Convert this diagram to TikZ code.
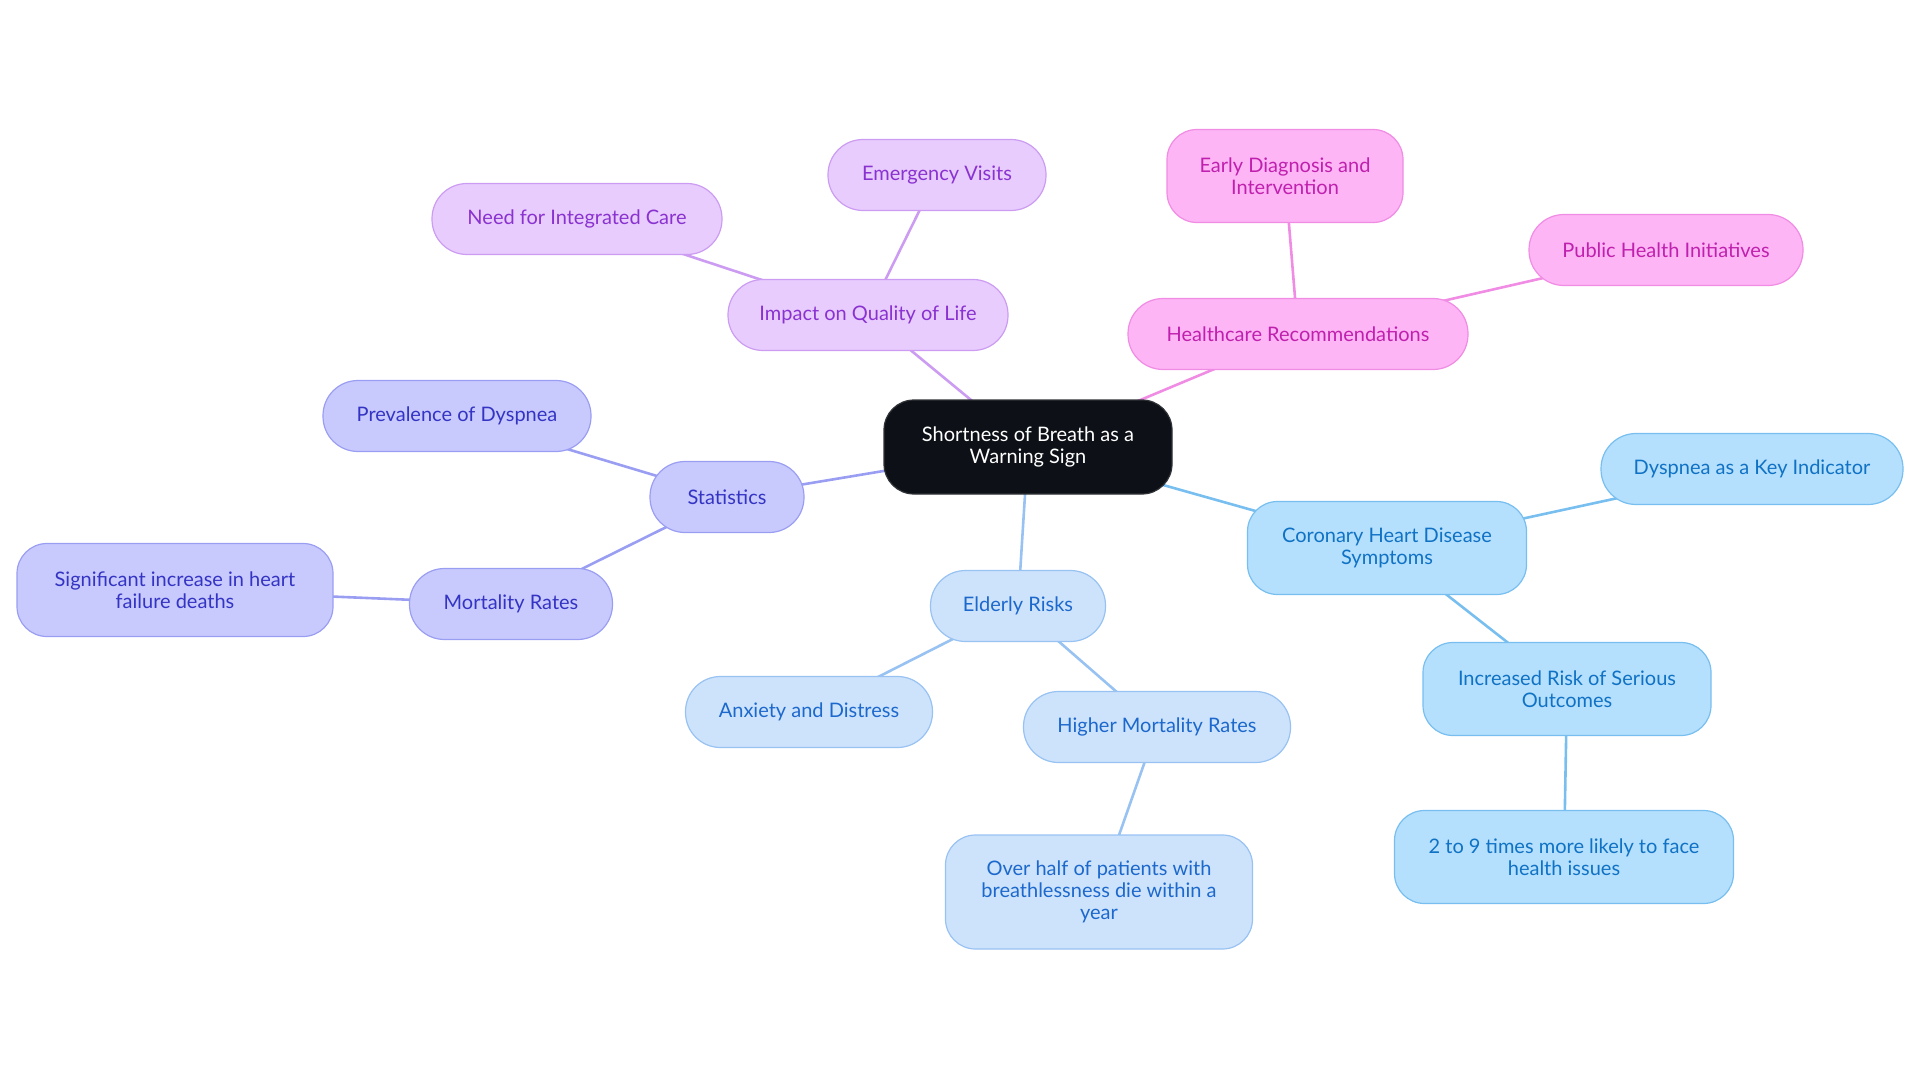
\documentclass[tikz,border=0pt]{standalone}
\usepackage{fontspec}
\setmainfont{Lato}
\usetikzlibrary{backgrounds}
\definecolor{rootfill}{HTML}{0D1117}
\definecolor{stfill}{HTML}{C8CAFD}\definecolor{stdraw}{HTML}{9A9EF2}\definecolor{sttext}{HTML}{3434C4}
\definecolor{imfill}{HTML}{E8CCFD}\definecolor{imdraw}{HTML}{CC9CF2}\definecolor{imtext}{HTML}{8A32D0}
\definecolor{hcfill}{HTML}{FDB5F5}\definecolor{hcdraw}{HTML}{F08CE4}\definecolor{hctext}{HTML}{C020AE}
\definecolor{elfill}{HTML}{CDE3FC}\definecolor{eldraw}{HTML}{98C2F2}\definecolor{eltext}{HTML}{1C68CC}
\definecolor{chfill}{HTML}{B4DFFD}\definecolor{chdraw}{HTML}{78BFF0}\definecolor{chtext}{HTML}{1072C4}
\tikzset{
  box/.style={draw, line width=1.2pt, align=center, inner sep=0pt,
     font=\fontsize{20}{22}\selectfont, minimum height=71pt},
  pill/.style={box, rounded corners=35pt},
  tall/.style={box, rounded corners=30pt, minimum height=93pt},
  root/.style={box, fill=rootfill, draw=rootfill!70!gray, text=white, rounded corners=30pt, minimum height=94pt},
  st/.style={fill=stfill, draw=stdraw, text=sttext},
  im/.style={fill=imfill, draw=imdraw, text=imtext},
  hc/.style={fill=hcfill, draw=hcdraw, text=hctext},
  el/.style={fill=elfill, draw=eldraw, text=eltext},
  ch/.style={fill=chfill, draw=chdraw, text=chtext},
  link/.style={line width=2.6pt},
}
\begin{document}
\begin{tikzpicture}[x=1pt,y=-1pt]
\useasboundingbox (0,0) rectangle (1920,1083);
\node[root, minimum width=288pt] (root) at (1028,447) {Shortness of Breath as a\\Warning Sign};
% statistics
\node[pill, st, minimum width=154pt] (stat) at (727,497) {Statistics};
\node[pill, st, minimum width=268pt] (prev) at (457,416) {Prevalence of Dyspnea};
\node[pill, st, minimum width=203pt] (mort) at (511,604) {Mortality Rates};
\node[tall, st, minimum width=316pt] (sig) at (175,590) {Significant increase in heart\\failure deaths};
% impact
\node[pill, im, minimum width=280pt] (impact) at (868,315) {Impact on Quality of Life};
\node[pill, im, minimum width=218pt] (emerg) at (937,175) {Emergency Visits};
\node[pill, im, minimum width=290pt] (need) at (577,219) {Need for Integrated Care};
% healthcare
\node[pill, hc, minimum width=340pt] (hc) at (1298,334) {Healthcare Recommendations};
\node[tall, hc, minimum width=236pt] (early) at (1285,176) {Early Diagnosis and\\Intervention};
\node[pill, hc, minimum width=274pt] (pub) at (1666,250) {Public Health Initiatives};
% coronary
\node[tall, ch, minimum width=279pt] (chd) at (1387,548) {Coronary Heart Disease\\Symptoms};
\node[pill, ch, minimum width=302pt] (key) at (1752,469) {Dyspnea as a Key Indicator};
\node[tall, ch, minimum width=288pt] (risk) at (1567,689) {Increased Risk of Serious\\Outcomes};
\node[tall, ch, minimum width=339pt] (two) at (1564,857) {2 to 9 times more likely to face\\health issues};
% elderly
\node[pill, el, minimum width=175pt] (eld) at (1018,606) {Elderly Risks};
\node[pill, el, minimum width=247pt] (anx) at (809,712) {Anxiety and Distress};
\node[pill, el, minimum width=267pt] (high) at (1157,727) {Higher Mortality Rates};
\node[tall, el, minimum width=307pt, minimum height=114pt] (over) at (1099,892) {Over half of patients with\\breathlessness die within a\\year};
\begin{scope}[on background layer]
\draw[link, stdraw] (root.center) -- (stat.center);
\draw[link, stdraw] (stat.center) -- (prev.center);
\draw[link, stdraw] (stat.center) -- (mort.center);
\draw[link, stdraw] (mort.center) -- (sig.center);
\draw[link, imdraw] (root.center) -- (impact.center);
\draw[link, imdraw] (impact.center) -- (emerg.center);
\draw[link, imdraw] (impact.center) -- (need.center);
\draw[link, hcdraw] (root.center) -- (hc.center);
\draw[link, hcdraw] (hc.center) -- (early.center);
\draw[link, hcdraw] (hc.center) -- (pub.center);
\draw[link, chdraw] (root.center) -- (chd.center);
\draw[link, chdraw] (chd.center) -- (key.center);
\draw[link, chdraw] (chd.center) -- (risk.center);
\draw[link, chdraw] (risk.center) -- (two.center);
\draw[link, eldraw] (root.center) -- (eld.center);
\draw[link, eldraw] (eld.center) -- (anx.center);
\draw[link, eldraw] (eld.center) -- (high.center);
\draw[link, eldraw] (high.center) -- (over.center);
\end{scope}
\end{tikzpicture}
\end{document}
